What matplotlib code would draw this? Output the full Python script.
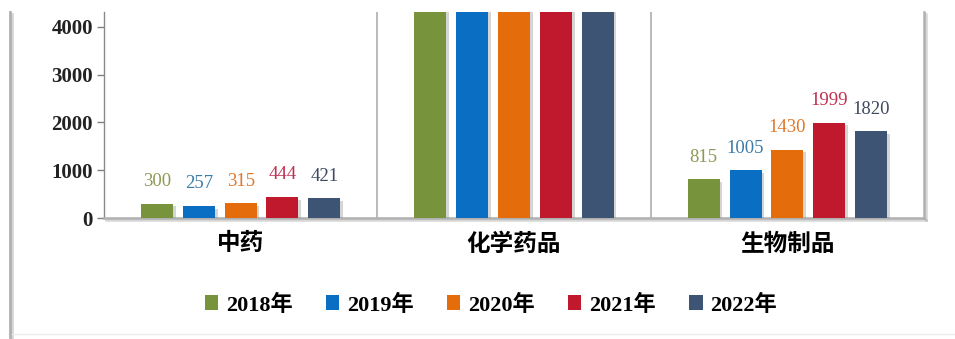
import matplotlib
matplotlib.use('Agg')
import matplotlib.pyplot as plt
from matplotlib.patches import Patch
from matplotlib.lines import Line2D
import matplotlib.patheffects as pe
import numpy as np

plt.rcParams['font.family'] = ['Liberation Serif', 'Noto Sans CJK SC']

categories = ['中药', '化学药品', '生物制品']
years = ['2018年', '2019年', '2020年', '2021年', '2022年']
# one list per year: 中药, 化学药品, 生物制品
v2018 = [300, 6120, 815]
v2019 = [257, 6540, 1005]
v2020 = [315, 7230, 1430]
v2021 = [444, 7860, 1999]
v2022 = [421, 8150, 1820]
series = [v2018, v2019, v2020, v2021, v2022]

bar_colors = ['#77933C', '#0A6FC2', '#E46C0A', '#C0182C', '#3D5475']
label_colors = ['#8C9A55', '#3C7CA8', '#E0782A', '#C03050', '#3F4A60']

fig = plt.figure(figsize=(9.55, 3.39), dpi=100)
ax = fig.add_axes([104 / 955, 1 - 218 / 339, 820 / 955, 206 / 339])

x = np.arange(len(categories))
step = 0.153
width = 0.117
shadow = [pe.SimplePatchShadow(offset=(2, -2), shadow_rgbFace='#888888', alpha=0.35), pe.Normal()]

for i, vals in enumerate(series):
    pos = x + (i - 2) * step
    bars = ax.bar(pos, vals, width, color=bar_colors[i], zorder=3)
    for b in bars:
        b.set_path_effects(shadow)
    for p, v in zip(pos, vals):
        t = ax.annotate(str(v), (p, v), xytext=(0, 12.5), textcoords='offset points',
                        ha='center', va='baseline', fontsize=13.5, color=label_colors[i])
        t.set_clip_on(True)

ax.set_xlim(-0.5, 2.5)
ax.set_ylim(0, 4314)
ax.set_yticks([0, 1000, 2000, 3000, 4000])
ax.set_xticks(x)
ax.set_xticklabels(categories, fontsize=17, fontweight='bold')
for lbl in ax.get_yticklabels():
    lbl.set_fontsize(15)
    lbl.set_fontweight('bold')
ax.tick_params(axis='x', length=0, pad=11)
ax.tick_params(axis='y', length=5, width=1, color='#808080', pad=3, labelcolor='#222222')

# group separators
for s in [0.5, 1.5]:
    ax.axvline(s, color='#b4b4b4', lw=1.3, zorder=1)

ax.spines['top'].set_visible(False)
ax.spines['left'].set_color('#8a8a8a')
ax.spines['left'].set_linewidth(1)
line_shadow = [pe.SimpleLineShadow(offset=(1.5, -1.5), shadow_color='#999999', alpha=0.4), pe.Normal()]
for side in ['bottom', 'right']:
    ax.spines[side].set_color('#b0b0b0')
    ax.spines[side].set_linewidth(1.8)
    ax.spines[side].set_path_effects(line_shadow)

# outer frame pieces
fig.add_artist(Line2D([10 / 955, 10 / 955], [1 - 12 / 339, 1 - 337 / 339], color='#b0b0b0', lw=2,
                      path_effects=line_shadow))
fig.add_artist(Line2D([12 / 955, 1], [1 - 334 / 339, 1 - 334 / 339], color='#ececec', lw=1))

handles = [Patch(facecolor=c) for c in bar_colors]
fig.legend(handles, years, loc='center', bbox_to_anchor=(491 / 955, 1 - 305 / 339), ncol=5,
           frameon=False, prop={'size': 16, 'weight': 'bold'}, handlelength=0.59, handleheight=0.63,
           handletextpad=0.36, columnspacing=1.5)

fig.savefig('out.png', dpi=100)
